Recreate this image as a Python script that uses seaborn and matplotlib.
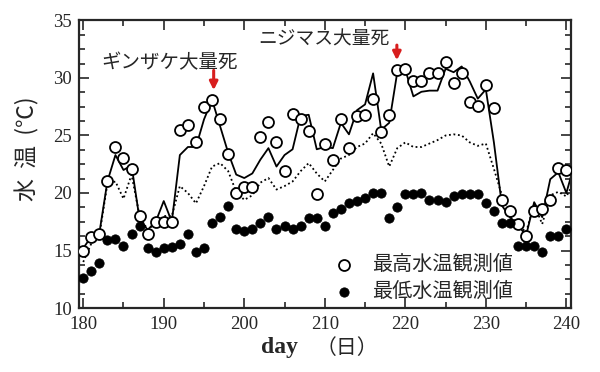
import numpy as np
import pandas as pd
import matplotlib
matplotlib.use("Agg")
import matplotlib.pyplot as plt
from matplotlib.ticker import MultipleLocator, AutoMinorLocator
import seaborn as sns

days = list(range(180, 241))
max_obs = [15.0, 16.2, 16.4, 21.0, 24.0, 23.0, 22.1, 18.0, 16.4, 17.5,
           17.5, 17.5, 25.5, 25.9, 24.4, 27.5, 28.1, 26.4, 23.4, 20.0,
           20.5, 20.5, 24.9, 26.2, 24.4, 21.9, 26.9, 26.4, 25.4, 19.9,
           24.3, 22.9, 26.4, 23.9, 26.7, 26.8, 28.2, 25.3, 26.8, 30.7,
           30.8, 29.7, 29.7, 30.4, 30.4, 31.4, 29.6, 30.4, 27.9, 27.6,
           29.4, 27.4, 19.4, 18.4, 17.3, 16.3, 18.4, 18.6, 19.4, 22.2,
           22.0]
min_obs = [12.6, 13.2, 13.9, 15.9, 16.0, 15.4, 16.4, 17.1, 15.2, 14.9,
           15.2, 15.3, 15.6, 16.4, 14.9, 15.2, 17.4, 17.9, 18.9, 16.9,
           16.7, 16.9, 17.4, 17.9, 16.9, 17.1, 16.9, 17.1, 17.8, 17.8,
           17.1, 18.3, 18.6, 19.1, 19.3, 19.6, 20.0, 20.0, 17.8, 18.8,
           19.9, 19.9, 20.0, 19.4, 19.4, 19.2, 19.7, 19.9, 19.9, 19.9,
           19.1, 18.4, 17.4, 17.4, 15.4, 15.4, 15.4, 14.9, 16.3, 16.3,
           16.9]

# computed curves (run one day past the right edge)
line_days = list(range(180, 242))
max_calc = [15.2, 16.2, 16.5, 21.0, 23.3, 22.0, 22.4, 17.7, 16.8, 17.5,
            19.3, 17.5, 23.3, 24.0, 24.0, 26.4, 28.1, 25.8, 23.5, 21.6,
            21.3, 21.7, 22.9, 23.9, 22.3, 23.3, 23.8, 26.7, 26.8, 23.8,
            24.0, 23.9, 26.1, 25.1, 27.2, 27.7, 30.4, 25.5, 26.1, 30.5,
            30.7, 28.4, 28.8, 28.9, 28.9, 30.8, 30.5, 31.0, 29.7, 28.2,
            29.0, 24.4, 18.9, 17.9, 17.2, 16.3, 19.2, 17.9, 21.2, 21.8,
            20.0, 22.5]
mean_calc = [14.0, 15.6, 16.3, 20.8, 21.0, 19.5, 21.6, 18.0, 16.8, 17.4,
             18.0, 18.0, 20.6, 20.0, 19.1, 20.6, 22.3, 22.6, 21.9, 20.1,
             19.4, 19.8, 20.9, 21.3, 20.3, 20.6, 21.0, 21.9, 22.6, 21.7,
             21.0, 22.0, 23.0, 23.3, 24.0, 24.3, 25.2, 24.3, 22.3, 23.9,
             24.4, 24.0, 24.0, 24.3, 24.6, 25.0, 25.1, 25.0, 24.4, 24.1,
             24.3, 22.1, 19.8, 18.1, 17.2, 16.6, 19.0, 17.3, 19.8, 20.1,
             19.7, 21.0]

obs = pd.DataFrame({"day": days, "max": max_obs, "min": min_obs})
calc = pd.DataFrame({"day": line_days, "max": max_calc, "mean": mean_calc})

sns.set_style("ticks")
plt.rcParams['font.family'] = ['Liberation Serif', 'Noto Sans CJK JP']
jp = ['Noto Sans CJK JP', 'DejaVu Sans']

fig, ax = plt.subplots(figsize=(6, 3.72), dpi=100)
fig.subplots_adjust(left=0.132, right=0.952, top=0.945, bottom=0.172)

sns.lineplot(data=calc, x="day", y="max", color="black", lw=1.3, ax=ax)
sns.lineplot(data=calc, x="day", y="mean", color="black", lw=1.3,
             linestyle=(0, (1, 1.5)), ax=ax)
sns.scatterplot(data=obs, x="day", y="max", s=62, facecolor="white",
                edgecolor="black", linewidth=1.3, label="最高水温観測値",
                zorder=3, ax=ax)
sns.scatterplot(data=obs, x="day", y="min", s=45, color="black",
                edgecolor="black", label="最低水温観測値", zorder=3, ax=ax)

ax.set_xlim(179.5, 240.6)
ax.set_ylim(10, 35)
ax.xaxis.set_major_locator(MultipleLocator(10))
ax.xaxis.set_minor_locator(MultipleLocator(5))
ax.yaxis.set_major_locator(MultipleLocator(5))
ax.yaxis.set_minor_locator(AutoMinorLocator(4))
ax.tick_params(which="both", direction="in", top=True, right=True,
               width=1.2, labelsize=13.5)
ax.tick_params(axis="x", pad=6)
ax.tick_params(axis="y", pad=5)
ax.tick_params(which="major", length=7)
ax.tick_params(which="minor", length=4)
for sp in ax.spines.values():
    sp.set_linewidth(1.6)

ax.set_xlabel("")
ax.set_ylabel("")
ax.text(0.408, -0.139, "day", transform=ax.transAxes, ha="center",
        va="center", fontsize=17, fontweight="bold")
ax.text(0.544, -0.139, "（日）", transform=ax.transAxes, ha="center",
        va="center", fontsize=15, family=jp)
fig.text(0.045, 0.6, "水  温  (℃)", rotation=90, ha="center", va="center",
         fontsize=16.5, family=jp)

ax.annotate("", xy=(196.2, 28.7), xytext=(196.2, 30.9),
            arrowprops=dict(arrowstyle="-|>", color="#d81e1e", lw=2.2,
                            mutation_scale=12))
ax.text(190.7, 31.3, "ギンザケ大量死", ha="center", va="center",
        fontsize=14, family=jp)
ax.annotate("", xy=(218.95, 31.3), xytext=(218.95, 33.1),
            arrowprops=dict(arrowstyle="-|>", color="#d81e1e", lw=2.2,
                            mutation_scale=12))
ax.text(209.9, 33.4, "ニジマス大量死", ha="center", va="center",
        fontsize=13.5, family=jp)

ax.legend(loc="upper left", bbox_to_anchor=(0.48, 0.215), frameon=False,
          prop={"family": jp, "size": 14.5}, handletextpad=0.4,
          labelspacing=0.3, borderaxespad=0)

fig.savefig("out.png", dpi=100)
